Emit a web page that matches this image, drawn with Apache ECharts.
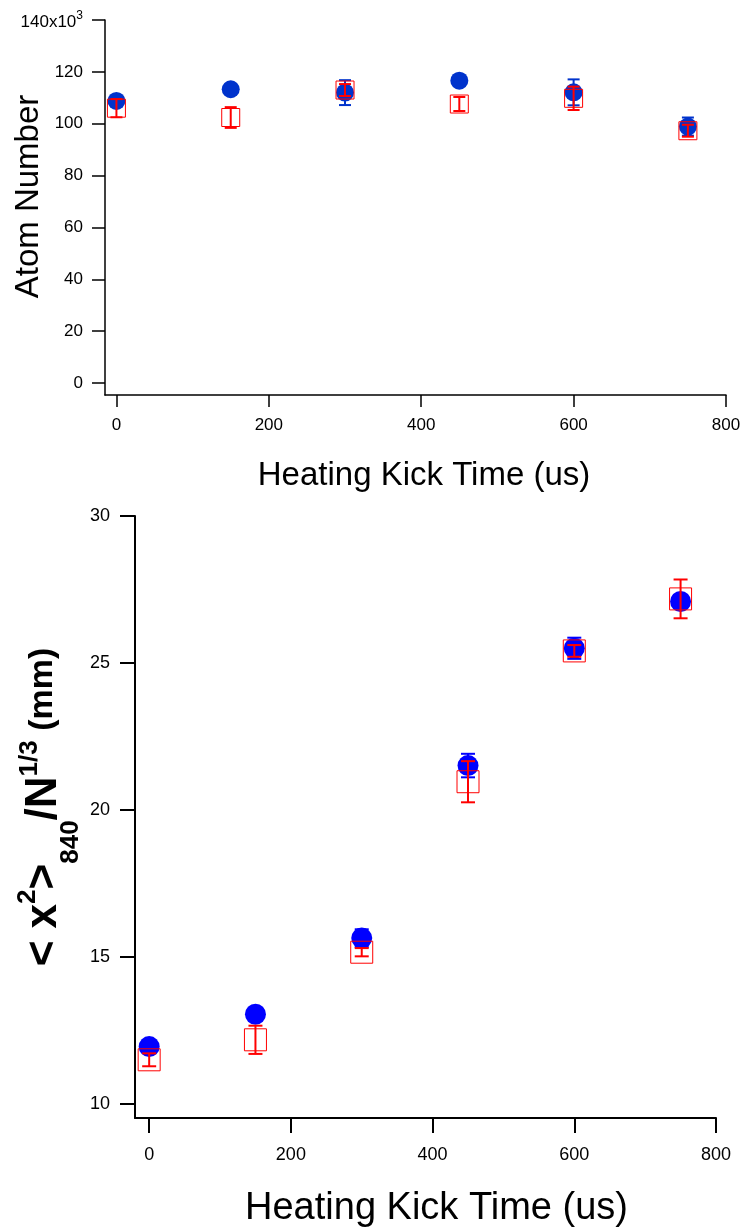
<!DOCTYPE html>
<html><head><meta charset="utf-8">
<script src="https://cdn.jsdelivr.net/npm/echarts@6/dist/echarts.min.js"></script>
<style>html,body{margin:0;padding:0;background:#fff}#c{width:744px;height:1232px}</style>
</head><body><div id="c"></div>
<script>
// ---- data ----
const kickTimes = [0, 150, 300, 450, 600, 750];
// top panel: atom number (x10^3)
const atomBlue    = [108.8, 113.3, 112.0, 116.6, 112.1, 98.9];
const atomBlueErr = [1.5, 1.5, 4.8, 1.5, 5.0, 3.5];
const atomRed     = [106.0, 102.4, 113.0, 107.6, 109.8, 97.3];
const atomRedErr  = [3.5, 4.0, 2.3, 2.7, 4.5, 2.3];
const atomTicks   = [0, 20, 40, 60, 80, 100, 120, 140];
const timeTicks   = [0, 200, 400, 600, 800];
// bottom panel: <x^2>_840 / N^(1/3)
const sizeBlue    = [11.95, 13.05, 15.64, 21.51, 25.50, 27.09];
const sizeBlueErr = [0.2, 0.2, 0.3, 0.4, 0.36, 0.2];
const sizeRed     = [11.50, 12.18, 15.16, 20.96, 25.41, 27.18];
const sizeRedErr  = [0.22, 0.48, 0.14, 0.70, 0.20, 0.66];
const sizeTicks   = [10, 15, 20, 25, 30];

const font = 'Liberation Sans, Arial, Helvetica, sans-serif';

function errSeries(xs, ys, es, color, idx, z, cap) {
  return {
    type: 'custom', xAxisIndex: idx, yAxisIndex: idx, z: z, silent: true,
    encode: { x: 0, y: [1, 2] },
    data: xs.map((x, i) => [x, ys[i] - es[i], ys[i] + es[i]]),
    renderItem: function (params, api) {
      const lo = api.coord([api.value(0), api.value(1)]);
      const hi = api.coord([api.value(0), api.value(2)]);
      const h = cap / 2;
      const st = { stroke: color, lineWidth: 2 };
      return { type: 'group', children: [
        { type: 'line', shape: { x1: lo[0], y1: lo[1], x2: hi[0], y2: hi[1] }, style: st },
        { type: 'line', shape: { x1: lo[0] - h, y1: lo[1], x2: lo[0] + h, y2: lo[1] }, style: st },
        { type: 'line', shape: { x1: hi[0] - h, y1: hi[1], x2: hi[0] + h, y2: hi[1] }, style: st }
      ]};
    }
  };
}
function pts(xs, ys) { return xs.map((x, i) => [x, ys[i]]); }

function xAxisCfg(idx, min, lw, tickLen, labelSize, margin, nameSize, nameGap, padL) {
  return {
    gridIndex: idx, type: 'value', min: min, max: 800,
    axisLine: { onZero: false, lineStyle: { color: '#000', width: lw } },
    axisTick: { show: true, length: tickLen, customValues: timeTicks, lineStyle: { color: '#000', width: lw } },
    axisLabel: { customValues: timeTicks, margin: margin, fontSize: labelSize, color: '#000', fontFamily: font },
    splitLine: { show: false },
    name: 'Heating Kick Time (us)', nameLocation: 'middle', nameGap: nameGap, nameMoveOverlap: false,
    nameTextStyle: { fontSize: nameSize, color: '#000', fontFamily: font, padding: [0, 0, 0, padL] }
  };
}

const chart = echarts.init(document.getElementById('c'), null, { renderer: 'canvas' });
chart.setOption({
  animation: false,
  backgroundColor: '#fff',
  grid: [
    { left: 105, right: 18, top: 20, bottom: 837, outerBoundsMode: 'none', containLabel: false },
    { left: 135, right: 28, top: 516, bottom: 114, outerBoundsMode: 'none', containLabel: false }
  ],
  xAxis: [
    xAxisCfg(0, -15, 1.5, 12, 17, 22, 33, 64, 17),
    xAxisCfg(1, -20, 2, 15, 18, 28, 38, 72, 22)
  ],
  yAxis: [
    {
      gridIndex: 0, type: 'value', min: -4.6, max: 140,
      axisLine: { show: true, onZero: false, lineStyle: { color: '#000', width: 1.5 } },
      axisTick: { show: true, length: 13, customValues: atomTicks, lineStyle: { color: '#000', width: 1.5 } },
      axisLabel: {
        customValues: atomTicks, margin: 22, fontSize: 17, color: '#000', fontFamily: font,
        formatter: v => v === 140 ? '{a|140x10}{s|3}' : String(v),
        rich: {
          a: { fontSize: 17, fontFamily: font, color: '#000', verticalAlign: 'bottom' },
          s: { fontSize: 12, fontFamily: font, color: '#000', verticalAlign: 'bottom', padding: [0, 0, 9, 0] }
        }
      },
      splitLine: { show: false },
      name: 'Atom Number', nameLocation: 'middle', nameRotate: 90, nameGap: 60, nameMoveOverlap: false,
      nameTextStyle: { fontSize: 33, color: '#000', fontFamily: font, padding: [0, 0, 0, 22] }
    },
    {
      gridIndex: 1, type: 'value', min: 9.52, max: 30,
      axisLine: { show: true, onZero: false, lineStyle: { color: '#000', width: 2 } },
      axisTick: { show: true, length: 15, customValues: sizeTicks, lineStyle: { color: '#000', width: 2 } },
      axisLabel: { customValues: sizeTicks, margin: 25, fontSize: 18, color: '#000', fontFamily: font },
      splitLine: { show: false },
      name: '{m|< x}{p|2}{m|>}{b|840}{m|/N}{q|1/3}{u| (mm)}',
      nameLocation: 'middle', nameRotate: 90, nameGap: 51, nameMoveOverlap: false,
      nameTextStyle: {
        color: '#000', fontFamily: font, padding: [0, 0, 0, 20],
        rich: {
          m: { fontSize: 44, fontWeight: 'bold', fontFamily: font, color: '#000', verticalAlign: 'bottom', padding: [0, 0, 18, 0] },
          p: { fontSize: 26, fontWeight: 'bold', fontFamily: font, color: '#000', verticalAlign: 'bottom', padding: [0, 0, 43, 0] },
          b: { fontSize: 26, fontWeight: 'bold', fontFamily: font, color: '#000', verticalAlign: 'bottom', padding: [0, 0, 0, 0] },
          q: { fontSize: 26, fontWeight: 'bold', fontFamily: font, color: '#000', verticalAlign: 'bottom', padding: [0, 0, 41, 0] },
          u: { fontSize: 34, fontWeight: 'bold', fontFamily: font, color: '#000', verticalAlign: 'bottom', padding: [0, 0, 24, 0] }
        }
      }
    }
  ],
  series: [
    // top panel
    errSeries(kickTimes, atomBlue, atomBlueErr, '#0033CC', 0, 1, 12),
    { type: 'scatter', xAxisIndex: 0, yAxisIndex: 0, z: 2, silent: true, symbol: 'circle', symbolSize: 18,
      itemStyle: { color: '#0033CC', opacity: 1 }, data: pts(kickTimes, atomBlue) },
    { type: 'scatter', xAxisIndex: 0, yAxisIndex: 0, z: 3, silent: true, symbol: 'rect', symbolSize: 18,
      itemStyle: { color: 'rgba(0,0,0,0)', borderColor: '#FF0000', borderWidth: 1, opacity: 1 }, data: pts(kickTimes, atomRed) },
    errSeries(kickTimes, atomRed, atomRedErr, '#FF0000', 0, 4, 12),
    // bottom panel
    errSeries(kickTimes, sizeBlue, sizeBlueErr, '#0000FF', 1, 1, 14),
    { type: 'scatter', xAxisIndex: 1, yAxisIndex: 1, z: 2, silent: true, symbol: 'circle', symbolSize: 21,
      itemStyle: { color: '#0000FF', opacity: 1 }, data: pts(kickTimes, sizeBlue) },
    { type: 'scatter', xAxisIndex: 1, yAxisIndex: 1, z: 3, silent: true, symbol: 'rect', symbolSize: 22,
      itemStyle: { color: 'rgba(0,0,0,0)', borderColor: '#FF0000', borderWidth: 1, opacity: 1 }, data: pts(kickTimes, sizeRed) },
    errSeries(kickTimes, sizeRed, sizeRedErr, '#FF0000', 1, 4, 14)
  ]
});
</script>
</body></html>
